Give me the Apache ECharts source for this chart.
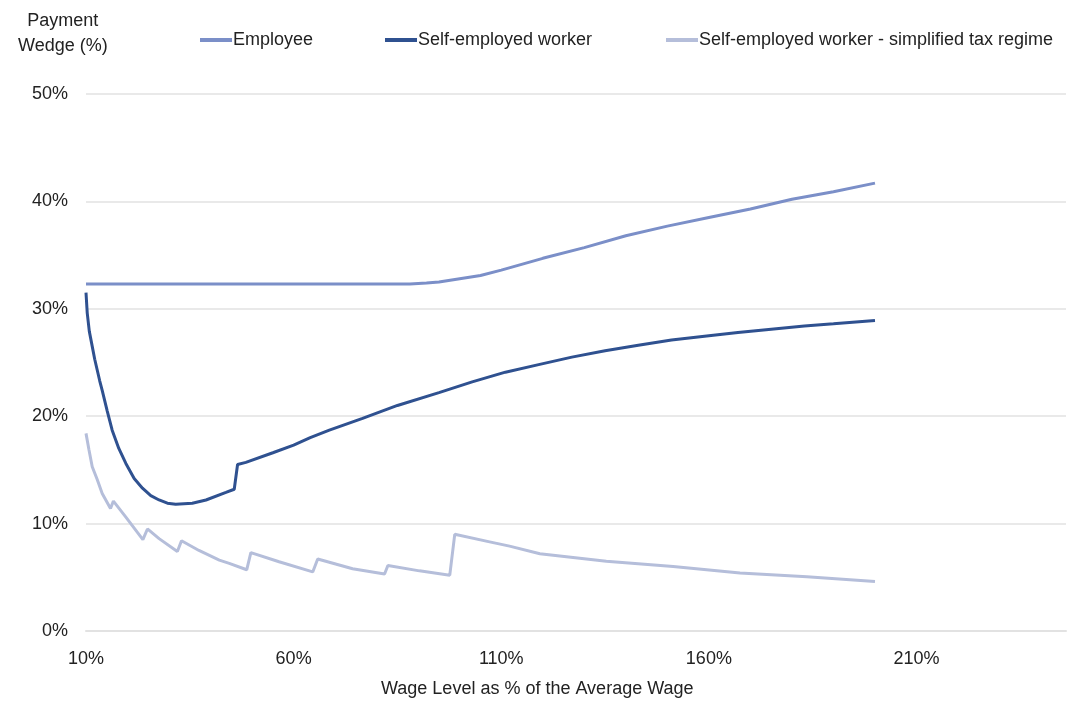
<!DOCTYPE html>
<html>
<head>
<meta charset="utf-8">
<script src="https://cdn.jsdelivr.net/npm/echarts@6/dist/echarts.min.js"></script>
<style>
html,body{margin:0;padding:0;background:#fff;}
#chart{width:1068px;height:701px;}
</style>
</head>
<body>
<div id="chart"></div>
<script>
const seriesNames = ['Employee', 'Self-employed worker', 'Self-employed worker - simplified tax regime'];

const employeeX = [10, 88, 92, 95, 100, 105, 110, 120, 130, 140, 150, 160, 170, 180, 190, 200];
const employeeY = [32.3, 32.3, 32.4, 32.5, 32.8, 33.1, 33.6, 34.7, 35.7, 36.8, 37.7, 38.5, 39.3, 40.2, 40.9, 41.7];

const selfX = [10, 10.3, 10.8, 11.5, 12.1, 12.7, 13.3, 13.9, 15.1, 16.3, 17.9, 19.6, 21.6, 23.6, 25.6, 27.6, 29.6, 31.6, 35.6, 38.9, 43.7, 45.7, 46.5, 48.5, 55, 60, 64, 68.6, 76.6, 85, 95, 103, 111, 119, 127, 135, 143, 151, 160, 167, 175, 183, 190, 200];
const selfY = [31.5, 29.6, 27.9, 26.5, 25.3, 24.3, 23.3, 22.4, 20.5, 18.7, 17.0, 15.6, 14.2, 13.3, 12.6, 12.2, 11.9, 11.8, 11.9, 12.2, 12.9, 13.2, 15.5, 15.7, 16.6, 17.3, 18.0, 18.7, 19.8, 21.0, 22.2, 23.2, 24.1, 24.8, 25.5, 26.1, 26.6, 27.1, 27.5, 27.8, 28.1, 28.4, 28.6, 28.9];

const simpX = [10, 10.7, 11.5, 12.7, 13.9, 15.9, 16.6, 19.6, 23.7, 24.8, 27.6, 32.0, 33.0, 37.2, 42.1, 44.5, 48.7, 49.7, 56.5, 64.6, 65.8, 74.2, 81.9, 82.7, 90.3, 97.6, 98.8, 107.2, 112, 119.3, 135.3, 151.4, 167.5, 183.6, 200];
const simpY = [18.4, 16.9, 15.3, 14.1, 12.8, 11.4, 12.1, 10.6, 8.5, 9.5, 8.6, 7.4, 8.4, 7.5, 6.6, 6.3, 5.7, 7.3, 6.45, 5.5, 6.7, 5.8, 5.3, 6.1, 5.6, 5.2, 9.0, 8.3, 7.9, 7.2, 6.5, 6.0, 5.4, 5.05, 4.6];

const xTicks = [10, 60, 110, 160, 210];
const yTicks = [0, 10, 20, 30, 40, 50];

const colors = ['#7B8FC8', '#2F5190', '#B5BEDA'];
const pairs = (xs, ys) => xs.map((x, i) => [x, ys[i]]);

const chart = echarts.init(document.getElementById('chart'));
const font = 'Liberation Sans, Arial, sans-serif';
const legendBase = {
  icon: 'rect', itemWidth: 32, itemHeight: 4, itemGap: 0, top: 31, padding: 0,
  textStyle: {fontFamily: font, fontSize: 18, color: '#222', padding: [0, 0, 0, -4]}
};
chart.setOption({
  animation: false,
  backgroundColor: '#fff',
  color: colors,
  legend: [
    Object.assign({}, legendBase, {data: [seriesNames[0]], left: 200}),
    Object.assign({}, legendBase, {data: [seriesNames[1]], left: 385}),
    Object.assign({}, legendBase, {data: [seriesNames[2]], left: 666})
  ],
  grid: {left: 86, right: 2, top: 94, bottom: 70},
  graphic: [
    {type: 'text', left: 18, top: 9, style: {text: 'Payment\nWedge (%)', font: '18px ' + font, fill: '#222', textAlign: 'center', lineHeight: 25}},
    {type: 'text', left: 381, top: 680, style: {text: 'Wage Level as % of the Average Wage', font: '18px ' + font, fill: '#222'}}
  ],
  xAxis: {
    type: 'value', min: 10, max: 246, interval: 50,
    axisLine: {show: true, lineStyle: {color: '#E2E2E2', width: 2}},
    axisTick: {show: false},
    splitLine: {show: false},
    axisLabel: {
      showMaxLabel: false, margin: 19, fontFamily: font, fontSize: 18, color: '#222',
      formatter: v => xTicks.indexOf(v) >= 0 ? v + '%' : ''
    }
  },
  yAxis: {
    type: 'value', min: yTicks[0], max: yTicks[yTicks.length - 1], interval: 10,
    axisLine: {show: false}, axisTick: {show: false},
    splitLine: {lineStyle: {color: '#E2E2E2', width: 1.5}},
    axisLabel: {margin: 18, fontFamily: font, fontSize: 18, color: '#222', formatter: '{value}%'}
  },
  series: [
    {name: seriesNames[0], type: 'line', data: pairs(employeeX, employeeY), showSymbol: false, lineStyle: {width: 3}},
    {name: seriesNames[1], type: 'line', data: pairs(selfX, selfY), showSymbol: false, lineStyle: {width: 3}},
    {name: seriesNames[2], type: 'line', data: pairs(simpX, simpY), showSymbol: false, lineStyle: {width: 3}}
  ]
});
</script>
</body>
</html>
